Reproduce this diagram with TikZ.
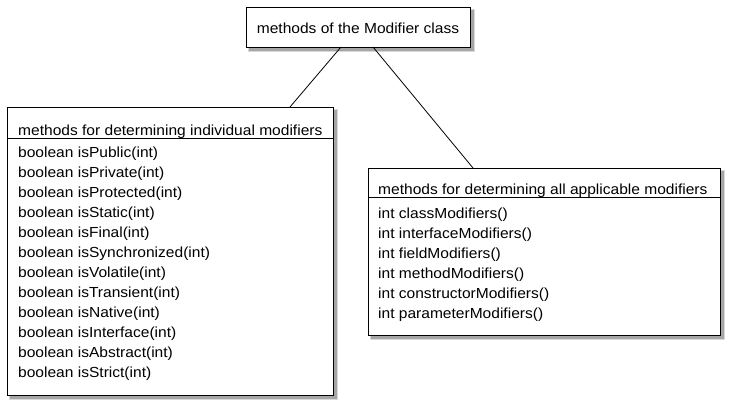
\documentclass[tikz,border=0pt]{standalone}
\usepackage{fontspec}
\setmainfont{Liberation Sans}[FakeStretch=1.065]
\begin{document}
\begin{tikzpicture}[x=1pt,y=-1pt,
  umlbox/.style={draw=black,line width=1.3pt,fill=white},
  shadowA/.style={fill=black!35,draw=none},
  shadowB/.style={fill=black!15,draw=none},
  sep/.style={line width=0.9pt},
  conn/.style={line width=0.8pt},
  txt/.style={anchor=base west,inner sep=0pt,font=\fontsize{14.6}{18}\selectfont}
]
\useasboundingbox (0,0) rectangle (731,407);
% shadows
\foreach \a/\b/\c/\d in {246/7/470/47, 7/107/333/395, 368/168/720/335}{
  \fill[shadowB] (\a+2,\b+2) rectangle (\c+5,\d+5);
  \fill[shadowA] (\a+3,\b+3) rectangle (\c+4,\d+4);
}
% boxes
\node[umlbox,anchor=north west,minimum width=224pt,minimum height=40pt,inner sep=0pt] (top) at (246,7) {};
\node[umlbox,anchor=north west,minimum width=326pt,minimum height=288pt,inner sep=0pt] (left) at (7,107) {};
\node[umlbox,anchor=north west,minimum width=352pt,minimum height=167pt,inner sep=0pt] (right) at (368,168) {};
% top text
\node[txt,anchor=base] (toptxt) at (358,33) {methods of the Modifier class};
% separators
\draw[sep] (7,138) -- (333,138);
\draw[sep] (368,197) -- (720,197);
% left
\node[txt] (ltitle) at (18,135) {methods for determining individual modifiers};
\foreach \t [count=\i from 0] in {boolean isPublic(int),boolean isPrivate(int),boolean isProtected(int),boolean isStatic(int),boolean isFinal(int),boolean isSynchronized(int),boolean isVolatile(int),boolean isTransient(int),boolean isNative(int),boolean isInterface(int),boolean isAbstract(int),boolean isStrict(int)}{
  \node[txt] (l\i) at (18,157+20*\i) {\t};
}
% right
\node[txt] (rtitle) at (378,194) {methods for determining all applicable modifiers};
\foreach \t [count=\i from 0] in {int classModifiers(),int interfaceModifiers(),int fieldModifiers(),int methodModifiers(),int constructorModifiers(),int parameterModifiers()}{
  \node[txt] (r\i) at (378,218+20*\i) {\t};
}
% connectors
\coordinate (a1) at (341,47);
\coordinate (a2) at (290,107);
\coordinate (b1) at (373,47);
\coordinate (b2) at (473,168);
\draw[conn] (a1) -- (a2);
\draw[conn] (b1) -- (b2);
\end{tikzpicture}
\end{document}
